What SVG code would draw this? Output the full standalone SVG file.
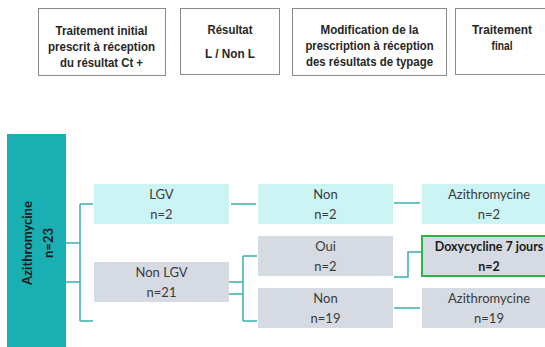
<svg xmlns="http://www.w3.org/2000/svg" width="545" height="347" viewBox="0 0 545 347">
<style>
.hbox{fill:#ffffff;stroke:#8a8a8a;stroke-width:1}
.ht{font-family:"Liberation Sans Narrow","Liberation Sans",Arial,sans-serif;font-weight:bold;font-size:13px;fill:#262626;text-anchor:middle}
.cyan{fill:#ccf4f5}
.grey{fill:#d6dae3}
.bt{font-family:Lato,"Open Sans",sans-serif;font-size:13px;fill:#3a3a3a;text-anchor:middle}
.bb{font-weight:bold;fill:#1a1a1a;font-size:12.5px}
.conn{fill:none;stroke:#3aafb1;stroke-width:1.5}
</style>
<rect width="545" height="347" fill="#ffffff"/>
<g id="h1"><rect class="hbox" x="38.5" y="8.5" width="127" height="67"/>
<text class="ht" x="101.5" y="35" textLength="92" lengthAdjust="spacingAndGlyphs">Traitement initial</text>
<text class="ht" x="101.5" y="51" textLength="107" lengthAdjust="spacingAndGlyphs">prescrit à réception</text>
<text class="ht" x="101.5" y="67" textLength="83" lengthAdjust="spacingAndGlyphs">du résultat Ct +</text></g>
<g id="h2"><rect class="hbox" x="180.5" y="8.5" width="99" height="66"/>
<text class="ht" x="230" y="34" textLength="45" lengthAdjust="spacingAndGlyphs">Résultat</text>
<text class="ht" x="230" y="58" textLength="50" lengthAdjust="spacingAndGlyphs">L / Non L</text></g>
<g id="h3"><rect class="hbox" x="292.5" y="8.5" width="154" height="67"/>
<text class="ht" x="369.5" y="34" textLength="98" lengthAdjust="spacingAndGlyphs">Modification de la</text>
<text class="ht" x="369.5" y="50" textLength="128" lengthAdjust="spacingAndGlyphs">prescription à réception</text>
<text class="ht" x="369.5" y="66" textLength="127" lengthAdjust="spacingAndGlyphs">des résultats de typage</text></g>
<g id="h4"><rect class="hbox" x="455.5" y="8.5" width="100" height="66"/>
<text class="ht" x="502" y="34" textLength="60" lengthAdjust="spacingAndGlyphs">Traitement</text>
<text class="ht" x="502" y="50" textLength="21" lengthAdjust="spacingAndGlyphs">final</text></g>

<g id="connectors">
<path class="conn" d="M66 243H80M66 282H80M80 204V321M80 204H93M80 321H93"/>
<path class="conn" d="M231 204H256"/>
<path class="conn" d="M229 282H243M229 294H243M243 256V321M243 256H257M243 321H257"/>
<path class="conn" d="M394 203H420"/>
<path class="conn" d="M394 277H408V252H421"/>
<path class="conn" d="M394 308H420"/>
</g>

<g id="azithro23"><rect x="7" y="134" width="59" height="213" fill="#1aafb3"/>
<text class="bt bb" transform="translate(32 243) rotate(-90)" style="font-size:13px">Azithromycine</text>
<text class="bt bb" transform="translate(53 243) rotate(-90)" style="font-size:13px">n=23</text></g>

<g id="lgv"><rect class="cyan" x="94" y="184" width="135" height="40"/>
<text class="bt" x="161.5" y="198.5">LGV</text><text class="bt" x="161.5" y="218.5">n=2</text></g>
<g id="nonlgv"><rect class="grey" x="94" y="262" width="135" height="40"/>
<text class="bt" x="161.5" y="276.5">Non LGV</text><text class="bt" x="161.5" y="296.5">n=21</text></g>

<g id="non2"><rect class="cyan" x="258" y="184" width="135" height="40"/>
<text class="bt" x="325.5" y="198.5">Non</text><text class="bt" x="325.5" y="218.5">n=2</text></g>
<g id="oui2"><rect class="grey" x="258" y="236" width="135" height="40"/>
<text class="bt" x="325.5" y="250.5">Oui</text><text class="bt" x="325.5" y="270.5">n=2</text></g>
<g id="non19"><rect class="grey" x="258" y="288" width="135" height="40"/>
<text class="bt" x="325.5" y="302.5">Non</text><text class="bt" x="325.5" y="322.5">n=19</text></g>

<g id="azi2"><rect class="cyan" x="422" y="184" width="134" height="40"/>
<text class="bt" x="489" y="198.5">Azithromycine</text><text class="bt" x="489" y="218.5">n=2</text></g>
<g id="doxy"><rect class="grey" x="422" y="236" width="134" height="40" stroke="#2db34e" stroke-width="2"/>
<text class="bt bb" x="489" y="250.5">Doxycycline 7 jours</text><text class="bt bb" x="489" y="270.5">n=2</text></g>
<g id="azi19"><rect class="grey" x="422" y="288" width="134" height="40"/>
<text class="bt" x="489" y="302.5">Azithromycine</text><text class="bt" x="489" y="322.5">n=19</text></g>
</svg>
